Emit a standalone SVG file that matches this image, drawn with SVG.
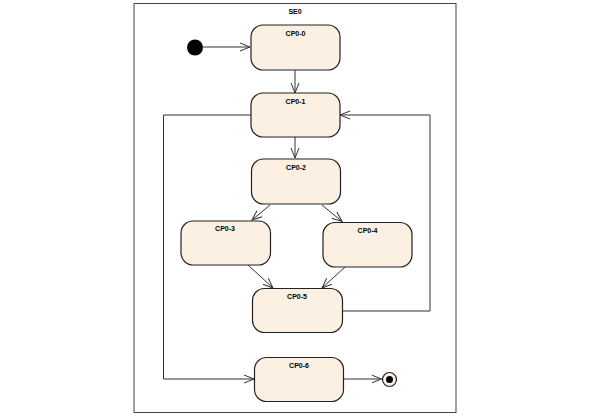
<svg xmlns="http://www.w3.org/2000/svg" width="592" height="416" viewBox="0 0 592 416">
<defs>
<style>
.st{fill:#FBF0E1;stroke:#222;stroke-width:1.2}
.lb{font-family:"Liberation Sans",Arial,sans-serif;font-size:7px;font-weight:bold;text-anchor:middle;fill:#000}
.cn{fill:none;stroke:#333;stroke-width:1}
</style>
<marker id="ah" markerWidth="12" markerHeight="12" refX="10" refY="5" orient="auto" markerUnits="userSpaceOnUse">
<path d="M0,1 L10,5 L0,9" fill="none" stroke="#333" stroke-width="1"/>
</marker>
</defs>
<rect width="592" height="416" fill="#fff"/>
<g id="SE0">
<rect x="134" y="3.5" width="322" height="409" fill="#fff" stroke="#444" stroke-width="1"/>
<text class="lb" x="295" y="14">SE0</text>
</g>
<g id="connectors">
<line class="cn" x1="203" y1="47" x2="250" y2="47" marker-end="url(#ah)"/>
<line class="cn" x1="295" y1="70" x2="295" y2="93" marker-end="url(#ah)"/>
<line class="cn" x1="295" y1="137" x2="295" y2="158" marker-end="url(#ah)"/>
<line class="cn" x1="270" y1="205" x2="252" y2="220" marker-end="url(#ah)"/>
<line class="cn" x1="322" y1="205" x2="342" y2="221.5" marker-end="url(#ah)"/>
<line class="cn" x1="248" y1="265" x2="273" y2="288" marker-end="url(#ah)"/>
<line class="cn" x1="345" y1="267" x2="322" y2="288" marker-end="url(#ah)"/>
<polyline class="cn" points="342,311 430,311 430,115 340,115" marker-end="url(#ah)"/>
<polyline class="cn" points="251,115 163.5,115 163.5,379 254,379" marker-end="url(#ah)"/>
<line class="cn" x1="343" y1="379" x2="381.5" y2="379" marker-end="url(#ah)"/>
</g>
<g id="initial"><circle cx="195" cy="47.5" r="8" fill="#000"/></g>
<g id="CP0-0"><rect class="st" x="251" y="25" width="89" height="45" rx="12"/><text class="lb" x="295.5" y="35.5">CP0-0</text></g>
<g id="CP0-1"><rect class="st" x="251" y="93" width="89" height="44" rx="12"/><text class="lb" x="295.5" y="103.5">CP0-1</text></g>
<g id="CP0-2"><rect class="st" x="251.5" y="159" width="89" height="45" rx="12"/><text class="lb" x="296" y="169.5">CP0-2</text></g>
<g id="CP0-3"><rect class="st" x="181" y="221" width="89.5" height="44" rx="12"/><text class="lb" x="225" y="231">CP0-3</text></g>
<g id="CP0-4"><rect class="st" x="323" y="222.5" width="89" height="44.5" rx="12"/><text class="lb" x="367.5" y="233">CP0-4</text></g>
<g id="CP0-5"><rect class="st" x="252.5" y="288.5" width="90" height="44" rx="12"/><text class="lb" x="297" y="299">CP0-5</text></g>
<g id="CP0-6"><rect class="st" x="254.5" y="357.5" width="89" height="44" rx="12"/><text class="lb" x="299" y="367.5">CP0-6</text></g>
<g id="final"><circle cx="389.5" cy="379.5" r="7" fill="#FBF0E1" stroke="#222" stroke-width="1.2"/><circle cx="389.5" cy="379.5" r="3.5" fill="#000"/></g>
</svg>
